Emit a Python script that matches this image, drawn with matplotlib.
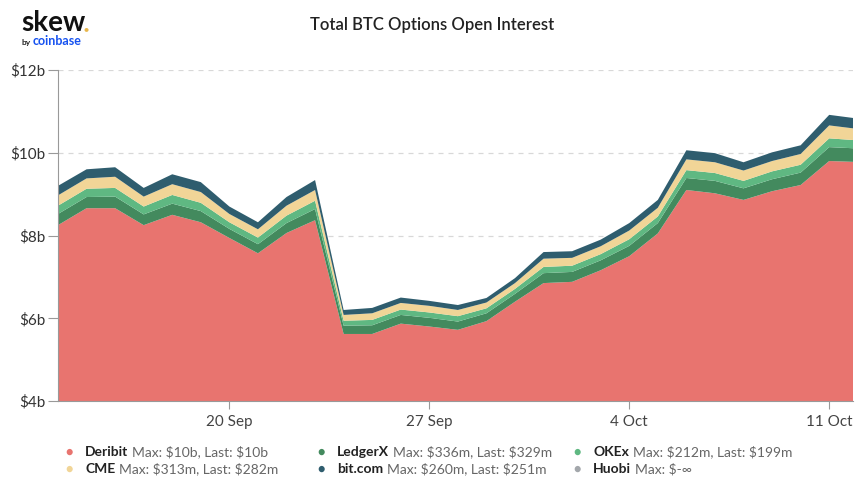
import matplotlib
matplotlib.use("Agg")
import matplotlib.pyplot as plt
import matplotlib.dates as mdates
import numpy as np
import pandas as pd

# ---- data (billions USD) ----
dates = list(pd.date_range("2020-09-14", "2020-10-11", freq="D")) + [pd.Timestamp("2020-10-11 20:00")]
deribit = [8.25, 8.66, 8.66, 8.25, 8.50, 8.32, 7.94, 7.57, 8.06, 8.37,
           5.62, 5.62, 5.87, 5.80, 5.72, 5.93, 6.40, 6.85, 6.88, 7.16,
           7.50, 8.05, 9.10, 9.02, 8.86, 9.07, 9.22, 9.80, 9.78]
ledgerx = [0.27, 0.27, 0.28, 0.26, 0.27, 0.27, 0.22, 0.22, 0.24, 0.27,
           0.20, 0.21, 0.21, 0.21, 0.20, 0.19, 0.19, 0.24, 0.24, 0.24,
           0.25, 0.25, 0.29, 0.30, 0.28, 0.29, 0.30, 0.336, 0.329]
okex = [0.20, 0.20, 0.21, 0.19, 0.21, 0.20, 0.16, 0.16, 0.18, 0.20,
        0.12, 0.13, 0.13, 0.13, 0.13, 0.12, 0.12, 0.15, 0.15, 0.15,
        0.16, 0.16, 0.19, 0.19, 0.18, 0.19, 0.19, 0.212, 0.199]
cme = [0.25, 0.25, 0.27, 0.24, 0.26, 0.26, 0.20, 0.20, 0.24, 0.26,
       0.14, 0.16, 0.16, 0.16, 0.15, 0.14, 0.14, 0.20, 0.19, 0.19,
       0.21, 0.21, 0.26, 0.26, 0.25, 0.25, 0.26, 0.313, 0.282]
bitcom = [0.23, 0.22, 0.23, 0.21, 0.24, 0.24, 0.18, 0.17, 0.21, 0.24,
          0.12, 0.13, 0.13, 0.12, 0.12, 0.11, 0.12, 0.16, 0.16, 0.16,
          0.18, 0.19, 0.22, 0.22, 0.20, 0.21, 0.21, 0.255, 0.251]

series_names = ["Deribit", "LedgerX", "OKEx", "CME", "bit.com"]
series_vals = [deribit, ledgerx, okex, cme, bitcom]
colors = ["#E8746F", "#438A5E", "#5FB882", "#F1D597", "#2F5D6E"]

yticks = [4, 6, 8, 10, 12]
ytick_labels = ["$4b", "$6b", "$8b", "$10b", "$12b"]
xtick_dates = ["2020-09-20", "2020-09-27", "2020-10-04", "2020-10-11"]
xtick_labels = ["20 Sep", "27 Sep", "4 Oct", "11 Oct"]

legend_rows = [
    [("Deribit", "Max: $10b, Last: $10b", "#E8746F"),
     ("LedgerX", "Max: $336m, Last: $329m", "#438A5E"),
     ("OKEx", "Max: $212m, Last: $199m", "#5FB882")],
    [("CME", "Max: $313m, Last: $282m", "#F1D597"),
     ("bit.com", "Max: $260m, Last: $251m", "#2F5D6E"),
     ("Huobi", "Max: $-\u221e", "#A3A7AB")],
]

plt.rcParams["font.family"] = ["Lato", "DejaVu Sans"]

fig = plt.figure(figsize=(8.64, 4.82), dpi=100)
ax = fig.add_axes([58 / 864, 1 - 401 / 482, (853 - 58) / 864, (401 - 70) / 482])

x = mdates.date2num(dates)
ax.stackplot(x, *series_vals, colors=colors, linewidth=0, zorder=2)

ax.set_ylim(4, 12)
ax.set_xlim(x[0], x[-1])
ax.set_yticks(yticks)
ax.set_yticklabels(ytick_labels)
ax.set_xticks(mdates.date2num(pd.to_datetime(xtick_dates)))
ax.set_xticklabels(xtick_labels)

for yv in yticks[1:]:
    ax.axhline(yv, color="#d8d8d8", linestyle=(0, (4, 4)), linewidth=0.9, zorder=1)

for s in ["top", "right"]:
    ax.spines[s].set_visible(False)
ax.spines["left"].set_color("#999999")
ax.spines["bottom"].set_color("#999999")
ax.spines["left"].set_zorder(3)
ax.tick_params(axis="y", length=7, color="#999999", labelsize=11, labelcolor="#333333", pad=2)
ax.tick_params(axis="x", length=6, color="#999999", labelsize=11, labelcolor="#444444", pad=4)

# title
fig.text(432 / 864, 1 - 25 / 482, "Total BTC Options Open Interest", ha="center", va="center",
         fontsize=12, color="#222222", fontweight="semibold")

# logo
fig.text(21 / 864, 1 - 31 / 482, "skew", ha="left", va="baseline", fontsize=20,
         fontweight="bold", color="#111111")
fig.text(84 / 864, 1 - 31 / 482, "\u25CF", ha="left", va="baseline", fontsize=6, color="#E8B64A")
fig.text(21 / 864, 1 - 45 / 482, "by", ha="left", va="baseline", fontsize=6,
         fontweight="bold", color="#222222")
fig.text(33 / 864, 1 - 45 / 482, "coinbase", ha="left", va="baseline", fontsize=9,
         fontweight="bold", color="#1652F0")

# legend
col_x = [69, 321, 577]
row_y = [452, 469]
for r, row in enumerate(legend_rows):
    for c, (name, rest, col) in enumerate(row):
        yy = 1 - row_y[r] / 482
        fig.text(col_x[c] / 864, yy, "\u25CF", ha="center", va="center", fontsize=9, color=col)
        t = fig.text((col_x[c] + 16) / 864, yy, name, ha="left", va="center", fontsize=10,
                     fontweight="bold", color="#222222", parse_math=False)
        ax.annotate(rest, xy=(1, 0.5), xycoords=t, xytext=(3, 0), textcoords="offset points",
                    ha="left", va="center", fontsize=10, color="#666666",
                    annotation_clip=False, parse_math=False)

fig.savefig("out.png", dpi=100, facecolor="white")
